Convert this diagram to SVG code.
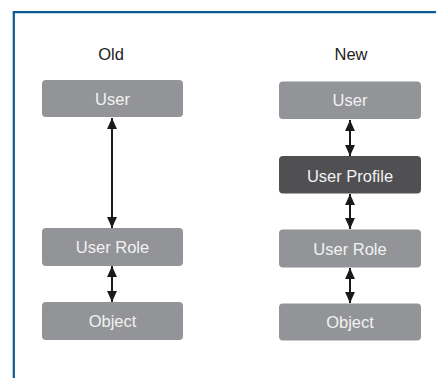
<svg xmlns="http://www.w3.org/2000/svg" width="436" height="378" viewBox="0 0 436 378">
<style>
.frame{fill:none;stroke:#0b5a96;stroke-width:2.2}
.box{fill:#929497}
.dark{fill:#505052}
.lbl{font-family:"Liberation Sans",Arial,sans-serif;font-size:16.5px;fill:#f2f2f2;text-anchor:middle}
.hdr{font-family:"Liberation Sans",Arial,sans-serif;font-size:16.5px;fill:#222;text-anchor:middle}
.conn{stroke:#1a1a1a;stroke-width:2;fill:none;marker-start:url(#ah);marker-end:url(#ah)}
</style>
<defs>
<marker id="ah" viewBox="0 0 10 9" refX="10" refY="4.5" markerWidth="5.5" markerHeight="5" orient="auto-start-reverse" markerUnits="strokeWidth">
<path d="M0,0 L10,4.5 L0,9 z" fill="#1a1a1a"/>
</marker>
</defs>
<rect width="436" height="378" fill="#fff"/>
<path class="frame" d="M13.8,378 V12.2 H436"/>
<text class="hdr" x="111" y="59.5">Old</text>
<text class="hdr" x="351" y="60">New</text>
<g id="connectors">
<line class="conn" x1="112" y1="118" x2="112" y2="228"/>
<line class="conn" x1="112" y1="266" x2="112" y2="302"/>
<line class="conn" x1="350" y1="120" x2="350" y2="156"/>
<line class="conn" x1="350" y1="194" x2="350" y2="229"/>
<line class="conn" x1="350" y1="268" x2="350" y2="303"/>
</g>
<g id="old-user"><rect class="box" x="42" y="80" width="141" height="37" rx="4"/><text class="lbl" x="112.5" y="105">User</text></g>
<g id="old-userrole"><rect class="box" x="42" y="228" width="141" height="38" rx="4"/><text class="lbl" x="112.5" y="253.3">User Role</text></g>
<g id="old-object"><rect class="box" x="42" y="302" width="141" height="38" rx="4"/><text class="lbl" x="112.5" y="327.3">Object</text></g>
<g id="new-user"><rect class="box" x="279" y="81.5" width="142" height="37.5" rx="4"/><text class="lbl" x="350" y="106">User</text></g>
<g id="new-userprofile"><rect class="dark" x="279" y="156" width="142" height="37.5" rx="4"/><text class="lbl" x="350" y="181.5">User Profile</text></g>
<g id="new-userrole"><rect class="box" x="279" y="229.5" width="142" height="38" rx="4"/><text class="lbl" x="350" y="255">User Role</text></g>
<g id="new-object"><rect class="box" x="279" y="303.5" width="142" height="37" rx="4"/><text class="lbl" x="350" y="328.3">Object</text></g>
</svg>
